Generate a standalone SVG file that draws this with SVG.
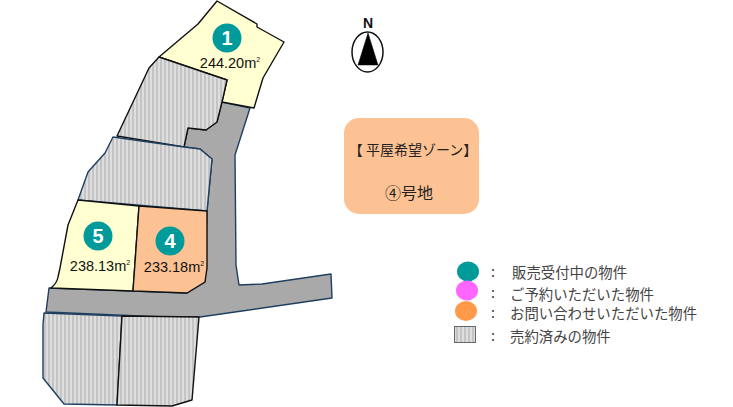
<svg xmlns="http://www.w3.org/2000/svg" width="733" height="407" viewBox="0 0 733 407">
<style>
text{font-family:"Noto Sans CJK JP","Liberation Sans",sans-serif;fill:#222}
.lot{stroke:#111;stroke-width:1.4;stroke-linejoin:round}
.blue{stroke:#1f3f60}
.y{fill:#ffffd2}.o{fill:#fdc293}.g{fill:url(#st)}
.badge{fill:#009a9a}
.num{font-family:"Liberation Sans",sans-serif;font-weight:bold;font-size:20px;fill:#fff;text-anchor:middle}
.area{font-family:"Liberation Sans",sans-serif;font-size:14.5px;fill:#111;text-anchor:middle}
.sup{font-size:7px}
.leg{font-size:14.400px;fill:#444}
</style>
<defs>
<pattern id="st" width="4" height="4" patternUnits="userSpaceOnUse">
<rect width="4" height="4" fill="#dedede"/><rect width="2" height="4" fill="#c4c4c4"/>
</pattern>
</defs>
<g id="connectors"></g>
<g id="road"><path class="lot blue" fill="#a9a9a9" d="M222 102L250 108L235 155L236 265L239 285L262 284L331 274L332 298L200 317L163 317L46 312L49 288L133 291L187 293L205 282L207 211L212 159L200 149L184 147L188 128L206 130L217 122Z"/></g>
<g id="lot-1"><path class="lot y" d="M217 1L257 24L257 27L284 42L263 78L254 108L222 102L227 80L159 57L198 24Z"/>
<circle class="badge" cx="227" cy="38" r="14.500"/><text class="num" x="227" y="45">1</text>
<text class="area" x="230" y="68">244.20m<tspan class="sup" dy="-6">2</tspan></text></g>
<g id="lot-sold-top"><path class="lot g" d="M159 57L227 80L222 102L217 122L206 130L188 128L184 147L117 136L149 68Z"/></g>
<g id="lot-sold-mid"><path class="lot blue g" d="M113 137L184 147L200 149L212 159L207 211L78 200L88 172L105 153Z"/></g>
<g id="lot-5"><path class="lot y" d="M78 200L139 206L133 291L51 288Q57 283 58 277L60 268L68 225Z"/>
<circle class="badge" cx="98" cy="236" r="14.500"/><text class="num" x="98" y="243">5</text>
<text class="area" x="100" y="271">238.13m<tspan class="sup" dy="-6">2</tspan></text></g>
<g id="lot-4"><path class="lot o" d="M139 206L207 211L207 268L205 282L187 293L133 291Z"/>
<circle class="badge" cx="170" cy="241" r="14.500"/><text class="num" x="170" y="248">4</text>
<text class="area" x="174" y="272">233.18m<tspan class="sup" dy="-6">2</tspan></text></g>
<g id="lot-sold-bl"><path class="lot blue g" d="M44 313L122 316L117 405L64 404L43 378L43 325Z"/></g>
<g id="lot-sold-br"><path class="lot g" d="M122 316L199 317L192 400L172 406L117 405Z"/></g>
<g id="north">
<ellipse cx="367.500" cy="52" rx="15.500" ry="20" fill="#fff" stroke="#111" stroke-width="1.5"/>
<path d="M368 33L358 65L378 65Z" fill="#000" stroke="#000" stroke-width=".5"/>
<text x="368" y="28" text-anchor="middle" style="font-family:'Liberation Sans',sans-serif;font-weight:bold;font-size:14px;fill:#111">N</text>
</g>
<g id="zone"><rect x="344" y="118" width="135" height="96" rx="15" fill="#fdc293"/>
<text x="413" y="155" text-anchor="middle" font-size="14">【 平屋希望ゾーン】</text>
<text x="409" y="199" text-anchor="middle" font-size="16">④号地</text></g>
<g id="legend">
<ellipse cx="468" cy="271.500" rx="11" ry="10" fill="#009a9a"/>
<ellipse cx="467" cy="290.500" rx="11" ry="10" fill="#ff66ff"/>
<ellipse cx="466" cy="311" rx="11" ry="10" fill="#ff9a4a"/>
<rect x="454.500" y="326.500" width="21" height="16" fill="url(#st)" stroke="#666" stroke-width="1"/>
<text class="leg" x="491" y="277">:</text><text class="leg" x="491" y="298">:</text><text class="leg" x="491" y="318">:</text><text class="leg" x="491" y="341">:</text>
<text class="leg" x="512" y="278">販売受付中の物件</text>
<text class="leg" x="510" y="300">ご予約いただいた物件</text>
<text class="leg" x="510" y="319">お問い合わせいただいた物件</text>
<text class="leg" x="510" y="342">売約済みの物件</text>
</g>
</svg>
